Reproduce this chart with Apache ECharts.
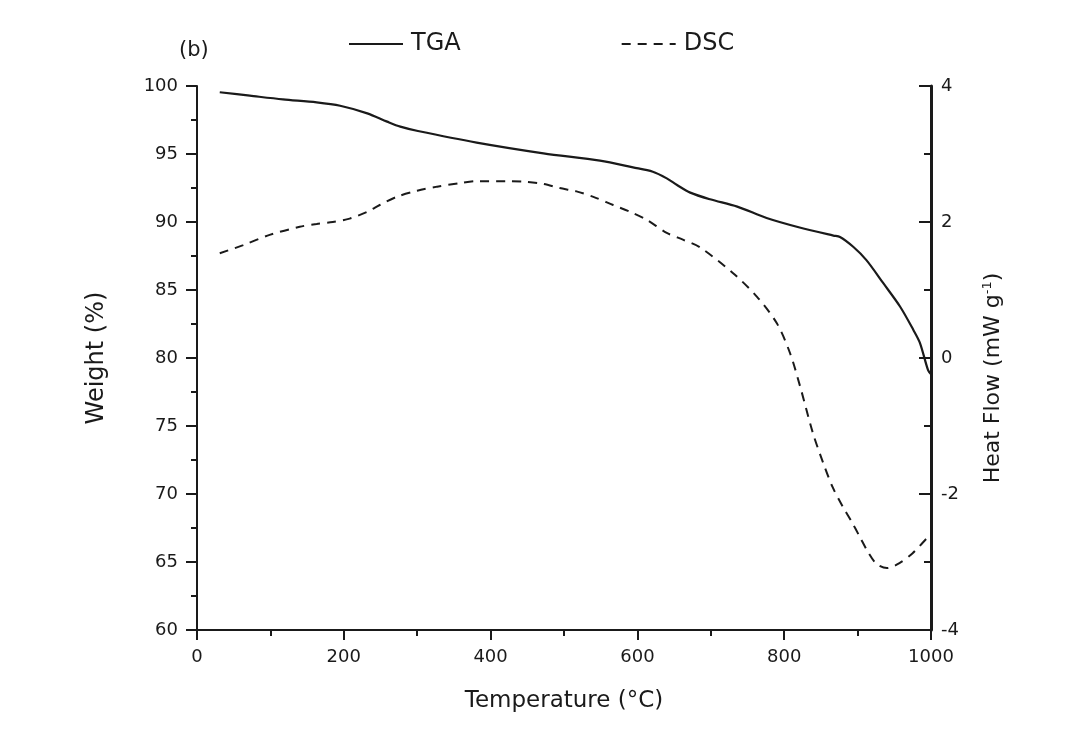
<!DOCTYPE html>
<html>
<head>
<meta charset="utf-8">
<script src="https://cdn.jsdelivr.net/npm/echarts@6/dist/echarts.min.js"></script>
<style>
  html, body { margin: 0; padding: 0; background: #fff; }
  #chart { width: 1073px; height: 749px; }
</style>
</head>
<body>
<div id="chart"></div>
<script>
// TGA: temperature (°C) / weight (%)
var tgaTemp = [31, 72, 117, 163, 195, 232, 259, 277, 301, 381, 472, 549, 594, 621, 640, 654, 672, 699, 736, 776, 821, 867, 876, 894, 912, 935, 958, 976, 985, 996, 1000];
var tgaWeight = [99.54, 99.29, 99.02, 98.8, 98.55, 97.99, 97.38, 97.01, 96.69, 95.84, 95.05, 94.51, 94.02, 93.7, 93.21, 92.72, 92.16, 91.67, 91.13, 90.3, 89.6, 89.0, 88.9, 88.18, 87.2, 85.5, 83.77, 82.06, 81.1, 79.1, 78.8];

// DSC: temperature (°C) / heat flow (mW g-1)
var dscTemp = [31, 63, 99, 140, 163, 185, 208, 232, 249, 272, 300, 327, 358, 381, 426, 449, 472, 494, 517, 540, 567, 590, 613, 640, 662, 685, 730, 763, 790, 808, 822, 839, 853, 866, 880, 892, 903, 914, 926, 940, 958, 975, 996, 1000];
var dscHeat = [1.54, 1.66, 1.81, 1.93, 1.97, 2.0, 2.05, 2.15, 2.25, 2.37, 2.46, 2.52, 2.57, 2.6, 2.6, 2.59, 2.56, 2.5, 2.45, 2.37, 2.25, 2.15, 2.03, 1.84, 1.74, 1.63, 1.25, 0.9, 0.51, 0.07, -0.43, -1.1, -1.54, -1.9, -2.19, -2.41, -2.63, -2.85, -3.03, -3.09, -3.01, -2.87, -2.63, -2.58];

var xTicks = [0, 200, 400, 600, 800, 1000];
var leftTicks = [60, 65, 70, 75, 80, 85, 90, 95, 100];
var rightTicks = [-4, -2, 0, 2, 4];

function pairs(xs, ys) {
  return xs.map(function (x, i) { return [x, ys[i]]; });
}

var chart = echarts.init(document.getElementById("chart"));
var font = "DejaVu Sans, Verdana, sans-serif";
var ink = "#1a1a1a";

var option = {
  backgroundColor: "#fff",
  animation: false,
  textStyle: { fontFamily: font, color: ink },
  title: {
    text: "(b)",
    left: 174,
    top: 35,
    textStyle: { fontSize: 21, fontWeight: "normal", color: ink, fontFamily: font }
  },
  legend: {
    left: 343,
    top: 27,
    itemWidth: 54,
    itemHeight: 14,
    itemGap: 160,
    itemStyle: { opacity: 0 },
    textStyle: { fontSize: 24, color: ink, fontFamily: font, padding: [0, 0, 0, 3] },
    data: ["TGA", "DSC"]
  },
  grid: { left: 197, right: 142, top: 86, bottom: 119 },
  xAxis: {
    type: "value",
    min: xTicks[0],
    max: xTicks[xTicks.length - 1],
    interval: 200,
    name: "Temperature (°C)",
    nameLocation: "middle",
    nameGap: 60,
    nameTextStyle: { fontSize: 23, color: ink, fontFamily: font },
    axisLine: { show: true, onZero: false, lineStyle: { color: ink, width: 2 } },
    axisTick: { show: true, length: 10, lineStyle: { color: ink, width: 2 } },
    minorTick: { show: true, splitNumber: 2, length: 6, lineStyle: { color: ink, width: 2 } },
    axisLabel: { fontSize: 18, color: ink, margin: 18, formatter: function (v) { return String(v); } },
    splitLine: { show: false }
  },
  yAxis: [
    {
      type: "value",
      position: "left",
      min: leftTicks[0],
      max: leftTicks[leftTicks.length - 1],
      interval: 5,
      name: "Weight (%)",
      nameLocation: "middle",
      nameRotate: 90,
      nameGap: 88,
      nameTextStyle: { fontSize: 24, color: ink, fontFamily: font },
      axisLine: { show: true, onZero: false, lineStyle: { color: ink, width: 2 } },
      axisTick: { show: true, length: 11, lineStyle: { color: ink, width: 2 } },
      minorTick: { show: true, splitNumber: 2, length: 6, lineStyle: { color: ink, width: 2 } },
      axisLabel: { fontSize: 18, color: ink, margin: 19 },
      splitLine: { show: false }
    },
    {
      type: "value",
      position: "right",
      min: rightTicks[0],
      max: rightTicks[rightTicks.length - 1],
      interval: 2,
      name: "Heat Flow (mW g{sup|-1})",
      nameLocation: "middle",
      nameRotate: 90,
      nameGap: 50,
      nameTextStyle: {
        fontSize: 22, color: ink, fontFamily: font,
        padding: [0, 40, 0, 0],
        rich: { sup: { fontSize: 13, verticalAlign: "top", padding: [0, 0, 12, 0], color: ink, fontFamily: font } }
      },
      axisLine: { show: true, onZero: false, lineStyle: { color: ink, width: 3 } },
      axisTick: { show: true, inside: true, length: 12, lineStyle: { color: ink, width: 2 } },
      minorTick: { show: true, splitNumber: 2, length: 7, lineStyle: { color: ink, width: 2 } },
      axisLabel: { fontSize: 18, color: ink, margin: 10 },
      splitLine: { show: false }
    }
  ],
  series: [
    {
      name: "TGA",
      type: "line",
      yAxisIndex: 0,
      data: pairs(tgaTemp, tgaWeight),
      smooth: 0.3,
      symbol: "none",
      lineStyle: { color: ink, width: 2.2, type: "solid" },
      itemStyle: { color: ink }
    },
    {
      name: "DSC",
      type: "line",
      yAxisIndex: 1,
      data: pairs(dscTemp, dscHeat),
      smooth: 0.3,
      symbol: "none",
      lineStyle: { color: ink, width: 2, type: [9, 7] },
      itemStyle: { color: ink }
    }
  ]
};

chart.setOption(option);
</script>
</body>
</html>
